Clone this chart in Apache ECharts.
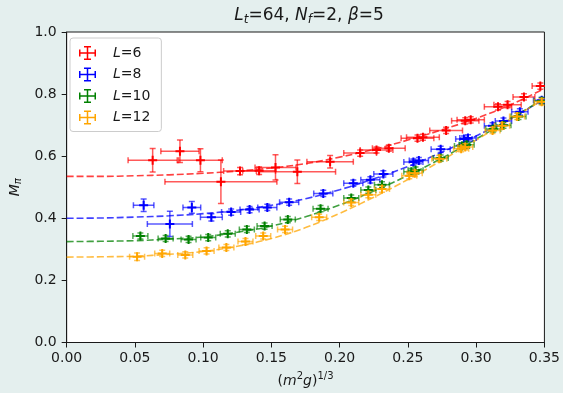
<!DOCTYPE html>
<html>
<head>
<meta charset="utf-8">
<script src="https://cdn.jsdelivr.net/npm/echarts@6/dist/echarts.min.js"></script>
<style>
  html, body { margin: 0; padding: 0; background: #e4efee; }
  #chart { width: 563px; height: 393px; }
</style>
</head>
<body>
<div id="chart"></div>
<script>
// Pion mass vs (m^2 g)^{1/3} for several spatial sizes L, with fits.
// Each point: [x, M_pi, x error, M_pi error]
const pointsL6 = [
  [0.063, 0.587, 0.018, 0.038], [0.083, 0.616, 0.014, 0.036], [0.098, 0.587, 0.016, 0.037],
  [0.113, 0.518, 0.041, 0.070], [0.127, 0.552, 0.012, 0.012], [0.141, 0.553, 0.012, 0.012],
  [0.153, 0.564, 0.015, 0.041], [0.169, 0.550, 0.028, 0.038], [0.193, 0.582, 0.017, 0.020],
  [0.215, 0.610, 0.012, 0.010], [0.227, 0.620, 0.012, 0.010], [0.236, 0.626, 0.012, 0.010],
  [0.257, 0.658, 0.012, 0.010], [0.261, 0.661, 0.012, 0.010], [0.278, 0.683, 0.012, 0.010],
  [0.292, 0.714, 0.010, 0.010], [0.296, 0.717, 0.010, 0.010], [0.316, 0.759, 0.010, 0.010],
  [0.323, 0.766, 0.010, 0.010], [0.335, 0.791, 0.008, 0.010], [0.347, 0.826, 0.006, 0.010]
];
const pointsL8 = [
  [0.0564, 0.442, 0.0075, 0.020], [0.0756, 0.382, 0.0165, 0.041], [0.0917, 0.435, 0.0065, 0.019],
  [0.106, 0.403, 0.008, 0.012], [0.1205, 0.420, 0.007, 0.010], [0.134, 0.428, 0.007, 0.010],
  [0.147, 0.435, 0.007, 0.010], [0.163, 0.452, 0.007, 0.010], [0.188, 0.480, 0.007, 0.010],
  [0.210, 0.513, 0.007, 0.010], [0.2225, 0.524, 0.007, 0.010], [0.232, 0.543, 0.007, 0.010],
  [0.254, 0.581, 0.007, 0.010], [0.258, 0.586, 0.007, 0.010], [0.274, 0.622, 0.007, 0.010],
  [0.291, 0.655, 0.006, 0.010], [0.294, 0.659, 0.006, 0.010], [0.312, 0.698, 0.006, 0.010],
  [0.320, 0.713, 0.006, 0.010], [0.332, 0.743, 0.006, 0.010], [0.348, 0.780, 0.006, 0.010]
];
const pointsL10 = [
  [0.054, 0.343, 0.0055, 0.010], [0.0725, 0.335, 0.0055, 0.010], [0.0893, 0.332, 0.0055, 0.010],
  [0.1037, 0.338, 0.0055, 0.010], [0.118, 0.350, 0.0055, 0.010], [0.132, 0.364, 0.0055, 0.010],
  [0.145, 0.375, 0.0055, 0.010], [0.162, 0.396, 0.0055, 0.010], [0.186, 0.431, 0.0055, 0.010],
  [0.2085, 0.465, 0.0055, 0.010], [0.221, 0.491, 0.0055, 0.010], [0.231, 0.508, 0.0055, 0.010],
  [0.2525, 0.550, 0.0055, 0.010], [0.2556, 0.555, 0.0055, 0.010], [0.274, 0.594, 0.0055, 0.010],
  [0.2896, 0.633, 0.0055, 0.010], [0.293, 0.637, 0.0055, 0.010], [0.3125, 0.688, 0.0055, 0.010],
  [0.320, 0.700, 0.0055, 0.010], [0.331, 0.728, 0.0055, 0.010], [0.348, 0.778, 0.0055, 0.010]
];
const pointsL12 = [
  [0.0516, 0.276, 0.0055, 0.012], [0.070, 0.287, 0.0055, 0.010], [0.0869, 0.282, 0.0055, 0.010],
  [0.1025, 0.295, 0.0055, 0.010], [0.117, 0.306, 0.0055, 0.010], [0.131, 0.325, 0.0055, 0.010],
  [0.144, 0.343, 0.0055, 0.010], [0.160, 0.364, 0.0055, 0.010], [0.185, 0.403, 0.0055, 0.010],
  [0.2085, 0.451, 0.0055, 0.010], [0.221, 0.476, 0.0055, 0.010], [0.231, 0.494, 0.0055, 0.010],
  [0.251, 0.537, 0.0055, 0.010], [0.255, 0.545, 0.0055, 0.010], [0.273, 0.592, 0.0055, 0.010],
  [0.289, 0.624, 0.0055, 0.010], [0.292, 0.630, 0.0055, 0.010], [0.312, 0.683, 0.0055, 0.010],
  [0.319, 0.698, 0.0055, 0.010], [0.330, 0.728, 0.0055, 0.010], [0.348, 0.775, 0.0055, 0.010]
];

// Fit curves, sampled along x
const fitX   = [0, 0.025, 0.05, 0.075, 0.1, 0.125, 0.15, 0.175, 0.2, 0.225, 0.25, 0.275, 0.3, 0.325, 0.35];
const fitL6  = [0.535, 0.535, 0.537, 0.540, 0.545, 0.552, 0.562, 0.576, 0.597, 0.622, 0.652, 0.685, 0.722, 0.765, 0.818];
const fitL8  = [0.400, 0.401, 0.404, 0.408, 0.415, 0.426, 0.442, 0.463, 0.492, 0.527, 0.567, 0.613, 0.665, 0.722, 0.783];
const fitL10 = [0.325, 0.326, 0.328, 0.333, 0.340, 0.355, 0.375, 0.405, 0.443, 0.488, 0.538, 0.594, 0.655, 0.720, 0.786];
const fitL12 = [0.275, 0.276, 0.278, 0.284, 0.293, 0.310, 0.335, 0.370, 0.416, 0.468, 0.525, 0.587, 0.652, 0.718, 0.785];

const seriesNames = ['L=6', 'L=8', 'L=10', 'L=12'];
const seriesColors = ['#ff0000', '#0000ff', '#008000', '#ffa500'];
const xTicks = { min: 0, max: 0.35, step: 0.05 };
const yTicks = { min: 0, max: 1.0, step: 0.2 };

const FONT = 'DejaVu Sans';
const INK = '#1a1a1a';

function errorBarRenderer(color) {
  return function (params, api) {
    const x = api.value(0), y = api.value(1), ex = api.value(2), ey = api.value(3);
    const c = api.coord([x, y]);
    const l = api.coord([x - ex, y]);
    const r = api.coord([x + ex, y]);
    const t = api.coord([x, y + ey]);
    const b = api.coord([x, y - ey]);
    const cap = 3, m = 4.5;
    const bar = { stroke: color, lineWidth: 1.5, opacity: 0.65 };
    const mk = { stroke: color, lineWidth: 2 };
    return {
      type: 'group',
      children: [
        { type: 'line', shape: { x1: l[0], y1: c[1], x2: r[0], y2: c[1] }, style: bar },
        { type: 'line', shape: { x1: c[0], y1: t[1], x2: c[0], y2: b[1] }, style: bar },
        { type: 'line', shape: { x1: l[0], y1: c[1] - cap, x2: l[0], y2: c[1] + cap }, style: bar },
        { type: 'line', shape: { x1: r[0], y1: c[1] - cap, x2: r[0], y2: c[1] + cap }, style: bar },
        { type: 'line', shape: { x1: c[0] - cap, y1: t[1], x2: c[0] + cap, y2: t[1] }, style: bar },
        { type: 'line', shape: { x1: c[0] - cap, y1: b[1], x2: c[0] + cap, y2: b[1] }, style: bar },
        { type: 'line', shape: { x1: c[0] - m, y1: c[1], x2: c[0] + m, y2: c[1] }, style: mk },
        { type: 'line', shape: { x1: c[0], y1: c[1] - m, x2: c[0], y2: c[1] + m }, style: mk }
      ]
    };
  };
}

const pointSets = [pointsL6, pointsL8, pointsL10, pointsL12];
const fitSets = [fitL6, fitL8, fitL10, fitL12];

const series = [];
fitSets.forEach(function (f, i) {
  series.push({
    name: seriesNames[i] + ' fit',
    type: 'line',
    data: fitX.map(function (x, k) { return [x, f[k]]; }),
    smooth: 0.4,
    showSymbol: false,
    silent: true,
    z: 1,
    lineStyle: { color: seriesColors[i], width: 1.6, type: [7, 3], opacity: 0.75 }
  });
});
pointSets.forEach(function (p, i) {
  series.push({
    name: seriesNames[i],
    type: 'custom',
    data: p,
    clip: true,
    z: 3,
    encode: { x: 0, y: 1 },
    itemStyle: { color: seriesColors[i] },
    renderItem: errorBarRenderer(seriesColors[i])
  });
});

// Legend icon: error-bar cross with caps (slightly heavier strokes)
const errIcon = 'path://M0,6.25h17v1.5h-17z M0,3.5h1.5v7h-1.5z M15.5,3.5h1.5v7h-1.5z M7.75,0h1.5v14h-1.5z M5,0h7v1.5h-7z M5,12.5h7v1.5h-7z';

const chart = echarts.init(document.getElementById('chart'), null, { renderer: 'canvas' });
chart.setOption({
  backgroundColor: '#e4efee',
  animation: false,
  textStyle: { fontFamily: FONT },
  title: {
    text: '{i|L}{sub|t}=64, {i|N}{sub|f}=2, {i|β}=5',
    left: 304, top: 1, textAlign: 'center',
    textStyle: {
      fontFamily: FONT, fontSize: 17, fontWeight: 'normal', color: INK,
      rich: {
        i: { fontFamily: FONT, fontSize: 17, fontStyle: 'italic', color: INK },
        sub: { fontFamily: FONT, fontSize: 12, fontStyle: 'italic', color: INK, padding: [8, 0, 0, 0] }
      }
    }
  },
  legend: {
    data: seriesNames.map(function (n, i) {
      return { name: n, icon: errIcon, itemStyle: { color: seriesColors[i], opacity: 1 } };
    }),
    orient: 'vertical',
    left: 70, top: 38,
    padding: [7, 11, 6, 9],
    itemGap: 5.5,
    itemWidth: 17, itemHeight: 14,
    backgroundColor: 'rgba(255,255,255,0.85)',
    borderColor: '#cccccc', borderWidth: 1, borderRadius: 3,
    formatter: function (name) { return '{i|L}=' + name.split('=')[1]; },
    textStyle: {
      fontFamily: FONT, fontSize: 14, lineHeight: 16, color: INK, padding: [0, 0, 0, 12],
      rich: { i: { fontFamily: FONT, fontSize: 14, lineHeight: 16, fontStyle: 'italic', color: INK } }
    }
  },
  grid: {
    left: 63, right: 16, top: 32, bottom: 47,
    show: true, backgroundColor: '#ffffff', borderColor: INK, borderWidth: 1
  },
  xAxis: {
    type: 'value', min: xTicks.min, max: xTicks.max, interval: xTicks.step,
    name: '({i|m}{sup|2}{i|g}){sup|1/3}', nameLocation: 'middle', nameGap: 29,
    nameTextStyle: {
      fontFamily: FONT, fontSize: 14, color: INK, verticalAlign: 'top',
      rich: {
        i: { fontFamily: FONT, fontSize: 14, fontStyle: 'italic', color: INK },
        sup: { fontFamily: FONT, fontSize: 10, color: INK, padding: [0, 0, 9, 0] }
      }
    },
    axisLine: { lineStyle: { color: INK, width: 1 } },
    axisTick: { show: true, inside: false, length: 5, lineStyle: { color: INK } },
    axisLabel: { fontFamily: FONT, fontSize: 14, color: INK, margin: 9,
      formatter: function (v) { return v.toFixed(2); } },
    splitLine: { show: false }
  },
  yAxis: {
    type: 'value', min: yTicks.min, max: yTicks.max, interval: yTicks.step,
    name: '{i|M}{sub|π}', nameLocation: 'middle', nameGap: 38, nameRotate: 90,
    nameTextStyle: {
      fontFamily: FONT, fontSize: 14, color: INK,
      rich: {
        i: { fontFamily: FONT, fontSize: 14, fontStyle: 'italic', color: INK },
        sub: { fontFamily: FONT, fontSize: 10, fontStyle: 'italic', color: INK, padding: [7, 0, 0, 0] }
      }
    },
    axisLine: { show: true, lineStyle: { color: INK, width: 1 } },
    axisTick: { show: true, inside: false, length: 5, lineStyle: { color: INK } },
    axisLabel: { fontFamily: FONT, fontSize: 14, color: INK, margin: 10,
      formatter: function (v) { return v.toFixed(1); } },
    splitLine: { show: false }
  },
  series: series
});
</script>
</body>
</html>
